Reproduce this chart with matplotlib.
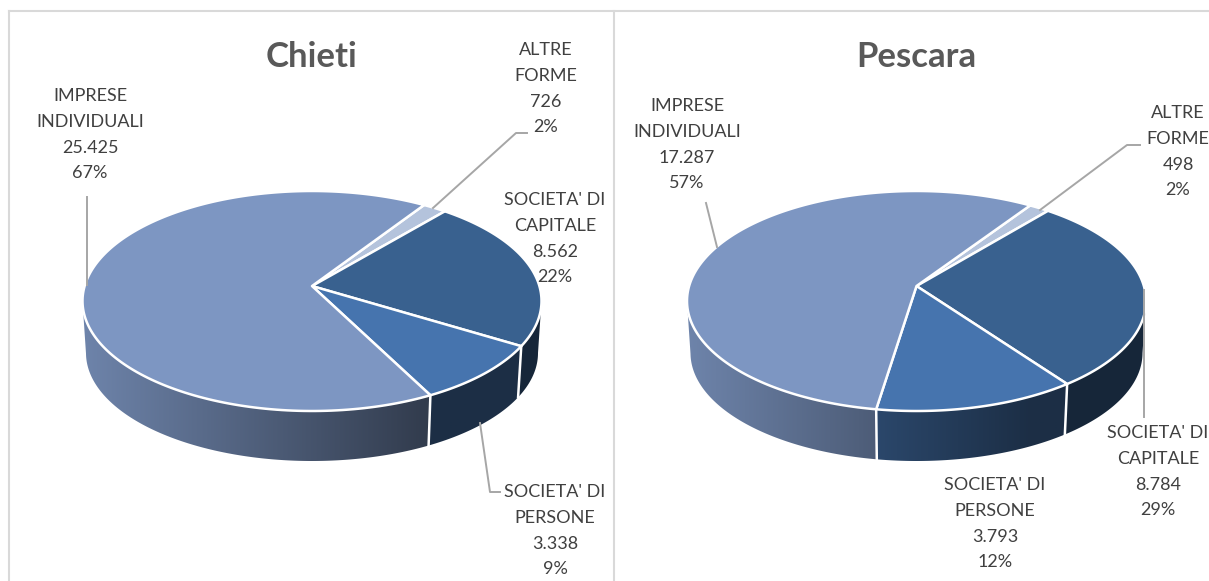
import numpy as np
from matplotlib import pyplot as plt
from matplotlib.colors import to_rgb
from matplotlib.patches import Polygon

plt.rcParams['font.family'] = ['Lato', 'DejaVu Sans']

# slice order is clockwise starting from the small one
labels = [['ALTRE', 'FORME'], ["SOCIETA' DI", 'CAPITALE'], ["SOCIETA' DI", 'PERSONE'], ['IMPRESE', 'INDIVIDUALI']]
chieti_values = [726, 8562, 3338, 25425]
chieti_text = ['726', '8.562', '3.338', '25.425']
chieti_pct = ['2%', '22%', '9%', '67%']
pescara_values = [498, 8784, 3793, 17287]
pescara_text = ['498', '8.784', '3.793', '17.287']
pescara_pct = ['2%', '29%', '12%', '57%']

colors = ['#b4c3dc', '#39618f', '#4674ae', '#7d96c2']
text_col = '#404040'
leader_col = '#a6a6a6'
frame_col = '#d9d9d9'

RX, RY = 229.5, 110
RX2, RY2 = 226, 108
PERSP = -0.136  # apex sits above the middle of the ellipse
CY, CY2 = 301, 353


def project(theta):
    x = np.sin(theta)
    y = -np.cos(theta)
    d = 1 + PERSP * y
    return x * np.sqrt(1 - PERSP ** 2) / d, (y + PERSP) / d


def shade(col, off):
    k = np.clip(0.88 - 0.0014 * off, 0.4, 1)
    return np.outer(k, np.array(to_rgb(col)))


def draw_pie(ax, cx, values, start):
    left = cx - RX
    edges = np.radians(start) + 2 * np.pi * np.cumsum([0] + values) / sum(values)
    apex = (cx, CY + PERSP * RY)

    # side walls, only the front half shows
    for i, col in enumerate(colors):
        th = np.linspace(edges[i], edges[i + 1], 400)
        px, py = project(th)
        keep = py >= 0
        if keep.sum() < 2:
            continue
        top = np.column_stack([cx + RX * px[keep], CY + RY * py[keep]])
        bot = np.column_stack([cx + RX2 * px[keep], CY2 + RY2 * py[keep]])
        poly = Polygon(np.vstack([top, bot[::-1]]), closed=True, fc='none', ec='none')
        ax.add_patch(poly)
        xs = np.arange(int(left), int(left + 2 * RX) + 2)
        grad = shade(col, xs - left)[np.newaxis, :, :]
        im = ax.imshow(grad, extent=(xs[0], xs[-1], CY2 + RY2 + 2, CY - 2), aspect='auto',
                       interpolation='bilinear', zorder=2)
        im.set_clip_path(poly)
        # white line between the walls
        if px[keep][0] == px[0]:
            ax.plot([top[0, 0], bot[0, 0]], [top[0, 1], bot[0, 1]], color='white', lw=1.8, zorder=3)

    # top faces
    for i, col in enumerate(colors):
        th = np.linspace(edges[i], edges[i + 1], 200)
        px, py = project(th)
        pts = np.vstack([[apex], np.column_stack([cx + RX * px, CY + RY * py])])
        ax.add_patch(Polygon(pts, closed=True, fc=col, ec='white', lw=1.8, joinstyle='round', zorder=4))


def put_label(ax, x, y, lines):
    for i, s in enumerate(lines):
        ax.text(x, y + i * 25.8, s, ha='center', va='center', fontsize=13, color=text_col, zorder=6)


fig = plt.figure(figsize=(12.09, 5.81), dpi=100)
ax = fig.add_axes([0, 0, 1, 1])
ax.axis('off')

# frame
ax.plot([9, 9], [581, 11], color=frame_col, lw=1.5)
ax.plot([9, 1209], [11, 11], color=frame_col, lw=1.5)
ax.plot([613.5, 613.5], [11, 581], color=frame_col, lw=1.5)

draw_pie(ax, 312, chieti_values, 33.3)
draw_pie(ax, 916.5, pescara_values, 33.8)

ax.set_xlim(0, 1209)
ax.set_ylim(581, 0)

# leader lines
leaders = [
    [(87, 197), (87, 285)],
    [(433, 208), (516, 133), (527, 133)],
    [(480, 423), (490, 492), (500, 492)],
    [(717, 247), (706, 203)],
    [(1040, 210), (1127, 145), (1140, 145)],
    [(1144, 290), (1144, 417)],
]
for pts in leaders:
    xs, ys = zip(*pts)
    ax.plot(xs, ys, color=leader_col, lw=1.4, zorder=5)

ax.text(311.5, 57, 'Chieti', ha='center', va='center', fontsize=25, fontweight='bold', color='#595959')
ax.text(916.5, 57, 'Pescara', ha='center', va='center', fontsize=25, fontweight='bold', color='#595959')

chieti_pos = [(546, 50), (555, 200), (555, 492), (90, 96)]
pescara_pos = [(1178, 113), (1158, 433), (995, 485), (687, 106)]
for i in range(4):
    put_label(ax, chieti_pos[i][0], chieti_pos[i][1], labels[i] + [chieti_text[i], chieti_pct[i]])
    put_label(ax, pescara_pos[i][0], pescara_pos[i][1], labels[i] + [pescara_text[i], pescara_pct[i]])

fig.savefig('out.png', dpi=100)
